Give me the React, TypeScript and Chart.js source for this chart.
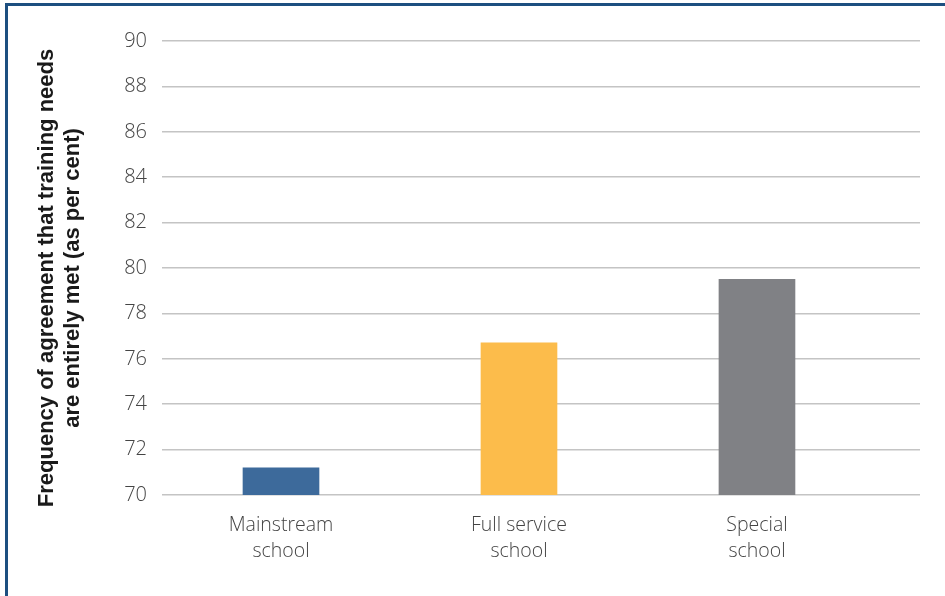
import React, { useEffect, useRef } from "react";
import { Chart, registerables } from "chart.js";

Chart.register(...registerables);

const categories: string[][] = [
  ["Mainstream", "school"],
  ["Full service", "school"],
  ["Special", "school"],
];
const values: number[] = [71.2, 76.7, 79.5];
const barColors: string[] = ["#3d6a9b", "#fcbc4b", "#808185"];
const yTitleLines: string[] = [
  "Frequency of agreement that training needs",
  "are entirely met (as per cent)",
];
const yMin = 70;
const yMax = 90;
const yStep = 2;

const yTitlePlugin = {
  id: "yTitlePlugin",
  afterDraw(chart: any) {
    const ctx = chart.ctx;
    ctx.save();
    ctx.fillStyle = "#1a1a1a";
    ctx.font = "bold 22px 'Liberation Sans', Arial, sans-serif";
    ctx.textAlign = "center";
    ctx.textBaseline = "middle";
    const xs = [47, 73];
    yTitleLines.forEach((t, i) => {
      ctx.save();
      ctx.translate(xs[i], 278);
      ctx.rotate(-Math.PI / 2);
      ctx.fillText(t, 0, 0);
      ctx.restore();
    });
    ctx.restore();
  },
};

export default function App() {
  const ref = useRef<HTMLCanvasElement | null>(null);

  useEffect(() => {
    document.body.style.margin = "0";
    if (!ref.current) return;
    const chart = new Chart(ref.current, {
      type: "bar",
      data: {
        datasets: [
          {
            data: values.map((v, i) => ({ x: i, y: v })),
            backgroundColor: barColors,
            barThickness: 76,
            borderWidth: 0,
          },
        ],
      },
      options: {
        animation: false,
        responsive: false,
        maintainAspectRatio: false,
        layout: { padding: { top: 41, right: 25, left: 0, bottom: 0 } },
        plugins: {
          legend: { display: false },
          tooltip: { enabled: false },
        },
        scales: {
          x: {
            type: "linear",
            min: -0.5,
            max: 2.685,
            offset: false,
            grid: { display: false, drawTicks: false, offset: false },
            border: { display: false },
            afterBuildTicks: (scale: any) => {
              scale.ticks = categories.map((_, i) => ({ value: i }));
            },
            afterFit: (scale: any) => {
              scale.height = 101;
            },
            ticks: {
              autoSkip: false,
              maxRotation: 0,
              padding: 18,
              color: "#444444",
              font: { family: "'Open Sans', sans-serif", size: 19.5, weight: "300", lineHeight: 1.3 },
              callback: (v: any) => categories[v as number] ?? "",
            },
          },
          y: {
            min: yMin,
            max: yMax,
            grid: { color: "#c4c4c4", lineWidth: 1.5, drawTicks: false },
            border: { display: false },
            afterFit: (scale: any) => {
              scale.width = 162;
            },
            ticks: {
              stepSize: yStep,
              padding: 15,
              color: "#444444",
              font: { family: "'Open Sans', sans-serif", size: 20, weight: "300" },
            },
          },
        },
      },
      plugins: [yTitlePlugin],
    } as any);
    return () => chart.destroy();
  }, []);

  return (
    <div style={{ position: "relative", width: 945, height: 596, background: "#fff", overflow: "hidden" }}>
      <canvas ref={ref} width={945} height={596} style={{ display: "block" }} />
      <div
        style={{
          position: "absolute",
          left: 5,
          top: 3,
          width: 960,
          height: 620,
          borderLeft: "3px solid #1d4f80",
          borderTop: "3px solid #1d4f80",
          pointerEvents: "none",
        }}
      />
    </div>
  );
}
